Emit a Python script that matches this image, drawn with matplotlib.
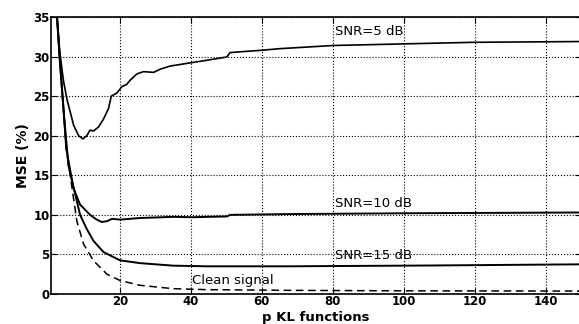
import matplotlib.pyplot as plt

# values
snr5_x = [1.5, 2.2, 3, 4, 5, 6.9, 8.3, 9.5, 10.6, 11.5, 12.5, 13.9, 15.3, 16.7, 17.5, 19.1,
          20.5, 21.9, 22.8, 24.7, 26.6, 29.4, 31.3, 34.1, 39.7, 45.4, 50.1, 51, 53.8, 60,
          65.1, 80.1, 99.8, 119.5, 150]
snr5_y = [42, 35, 30.5, 27, 24.6, 21.3, 20.0, 19.6, 20.0, 20.7, 20.6, 21.1, 22.1, 23.4, 25.0, 25.4,
          26.2, 26.5, 27.0, 27.8, 28.1, 28.0, 28.4, 28.8, 29.2, 29.6, 29.95, 30.5, 30.6, 30.8,
          31.0, 31.4, 31.6, 31.8, 31.9]

snr10_x = [1.5, 2.2, 3, 4, 4.8, 6.8, 8.7, 11.5, 13.4, 14.8, 16.3, 17.7, 20, 25.6, 35, 40.2,
           50.1, 51, 67.9, 100, 150]
snr10_y = [42, 35, 29.5, 23.5, 18.4, 13.4, 11.3, 10.0, 9.4, 9.1, 9.2, 9.5, 9.4, 9.6, 9.75, 9.7,
           9.8, 10.0, 10.1, 10.2, 10.3]

snr15_x = [1.5, 2.2, 3, 4, 5.4, 8.7, 10.6, 12.5, 15.3, 20, 25.6, 35, 44.4, 67.9, 107, 150]
snr15_y = [42, 35, 29.5, 23.5, 16.3, 10.0, 8.2, 6.7, 5.3, 4.25, 3.9, 3.58, 3.5, 3.5, 3.6, 3.75]

clean_x = [1.5, 2.2, 3, 4, 4.8, 7.8, 9.7, 12.5, 16.3, 20, 25.6, 35, 44.4, 67.9, 100, 150]
clean_y = [42, 35, 29.5, 23.5, 18.4, 9.2, 6.3, 4.2, 2.5, 1.7, 1.1, 0.67, 0.55, 0.46, 0.4, 0.37]

x_ticks = [20, 40, 60, 80, 100, 120, 140]
y_ticks = [0, 5, 10, 15, 20, 25, 30, 35]

fig = plt.figure(figsize=(5.79, 3.24), dpi=100)
ax = fig.add_axes([51 / 579, 30 / 324, 530 / 579, 277 / 324])

ax.plot(snr5_x, snr5_y, color='black', lw=1.2)
ax.plot(snr10_x, snr10_y, color='black', lw=1.4)
ax.plot(snr15_x, snr15_y, color='black', lw=1.4)
ax.plot(clean_x, clean_y, color='black', lw=1.1, ls=(0, (5, 3)))

ax.text(80.5, 32.3, 'SNR=5 dB', fontsize=9.5, va='bottom')
ax.text(80.5, 10.6, 'SNR=10 dB', fontsize=9.5, va='bottom')
ax.text(80.5, 4.0, 'SNR=15 dB', fontsize=9.5, va='bottom')
ax.text(40.2, 0.9, 'Clean signal', fontsize=9.5, va='bottom')

ax.set_xlim(0.5, 150)
ax.set_ylim(0, 35)
ax.set_xticks(x_ticks)
ax.set_yticks(y_ticks)
ax.tick_params(direction='in', length=4, top=True, right=True, labelsize=8.5, pad=1)
for lbl in ax.get_xticklabels() + ax.get_yticklabels():
    lbl.set_fontweight('bold')
ax.grid(True, color='black', ls=':', lw=0.8)
ax.set_xlabel('p KL functions', fontsize=9.5, fontweight='bold')
ax.xaxis.label.set_va('baseline')
ax.xaxis.set_label_coords(0.5, -0.098)
ax.set_ylabel('MSE (%)', fontsize=10, fontweight='bold', labelpad=2)
for s in ax.spines.values():
    s.set_linewidth(1.2)

fig.savefig('out.png', dpi=100)
